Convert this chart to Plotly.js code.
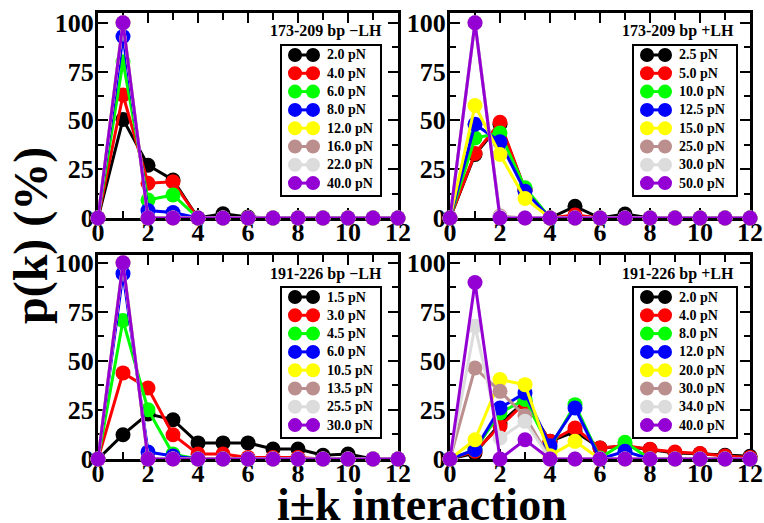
<!DOCTYPE html>
<html>
<head>
<meta charset="utf-8">
<script src="https://cdn.plot.ly/plotly-3.0.1.min.js"></script>
<style>html,body{margin:0;padding:0;background:#fff;}#chart{width:764px;height:523px;}</style>
</head>
<body>
<div id="chart"></div>
<script>
// ---------- data ----------
var kValues = [0,1,2,3,4,5,6,7,8,9,10,11,12];
var seriesColors = ['#000000','#ff0000','#00ff00','#0000ff','#ffff00','#bc8f8f','#dcdcdc','#9400d3'];

var panelTitles = ['173-209 bp \u2212LH', '173-209 bp +LH', '191-226 bp \u2212LH', '191-226 bp +LH'];

var namesTL = ['2.0 pN','4.0 pN','6.0 pN','8.0 pN','12.0 pN','16.0 pN','22.0 pN','40.0 pN'];
var namesTR = ['2.5 pN','5.0 pN','10.0 pN','12.5 pN','15.0 pN','25.0 pN','30.0 pN','50.0 pN'];
var namesBL = ['1.5 pN','3.0 pN','4.5 pN','6.0 pN','10.5 pN','13.5 pN','25.5 pN','30.0 pN'];
var namesBR = ['2.0 pN','4.0 pN','8.0 pN','12.0 pN','20.0 pN','30.0 pN','34.0 pN','40.0 pN'];

var tl_black  = [0,50.5,27,19.5,0,2.2,0.5,0,0,0,0,0,0];
var tl_red    = [0,63,17.8,18.6,0,0,0,0,0,0,0,0,0];
var tl_green  = [0,80,9.2,11.8,0,0,0,0,0,0,0,0,0];
var tl_blue   = [0,93,3.8,2.8,0,0,0,0,0,0,0,0,0];
var tl_yellow = [0,100,0,0,0,0,0,0,0,0,0,0,0];
var tl_brown  = [0,100,0,0,0,0,0,0,0,0,0,0,0];
var tl_grey   = [0,100,0,0,0,0,0,0,0,0,0,0,0];
var tl_violet = [0,100,0,0,0,0,0,0,0,0,0,0,0];

var tr_black  = [0,32.5,48,14.5,0,6,0,2,0,0,0,0,0];
var tr_red    = [0,33,49,14.5,0,1.5,0,0,0,0,0,0,0];
var tr_green  = [0,41,43.5,15.5,0,0,0,0,0,0,0,0,0];
var tr_blue   = [0,48,39,13.7,0,0,0,0,0,0,0,0,0];
var tr_yellow = [0,57.6,32.5,10,0,0,0,0,0,0,0,0,0];
var tr_brown  = [0,100,1,0,0,0,0,0,0,0,0,0,0];
var tr_grey   = [0,100,0.5,0,0,0,0,0,0,0,0,0,0];
var tr_violet = [0,100,0,0,0,0,0,0,0,0,0,0,0];

var bl_black  = [0,12.4,23,20,8.2,8.2,8.2,5.1,5.1,1.9,2.5,0,0];
var bl_red    = [0,43.9,36.2,12.4,2.5,2.5,0.8,0.8,0.8,0,0,0,0];
var bl_green  = [0,70.6,25.1,2.5,0,0,0,0,0,0,0,0,0];
var bl_blue   = [0,94.5,3.6,1.5,0,0,0,0,0,0,0,0,0];
var bl_yellow = [0,100,0,0,0,0,0,0,0,0,0,0,0];
var bl_brown  = [0,100,0,0,0,0,0,0,0,0,0,0,0];
var bl_grey   = [0,100,0,0,0,0,0,0,0,0,0,0,0];
var bl_violet = [0,100,0,0,0,0,0,0,0,0,0,0,0];

var br_black  = [0,3,18,29.4,9,14,5.6,6.5,4.8,3,2.7,1.9,1.4];
var br_red    = [0,4,16.6,28.7,9,15.8,5.6,6.8,5,3.6,2.8,1.5,0.8];
var br_green  = [0,4.8,23.5,30.3,5.6,27.7,0.5,8.5,0,0,0,0,0];
var br_blue   = [0,4.7,26,33.7,6.8,26,0,3.9,0,0,0,0,0];
var br_yellow = [0,9.8,40.5,37.9,1.7,9,0,0,0,0,0,0,0];
var br_brown  = [0,46.4,34.5,22,0,0,0,0,0,0,0,0,0];
var br_grey   = [0,67.7,10.7,19.2,0,0,0,0,0,0,0,0,0];
var br_violet = [0,90,0,9.8,0,0,0,0,0,0,0,0,0];

var panelSeries = [
  [tl_black,tl_red,tl_green,tl_blue,tl_yellow,tl_brown,tl_grey,tl_violet],
  [tr_black,tr_red,tr_green,tr_blue,tr_yellow,tr_brown,tr_grey,tr_violet],
  [bl_black,bl_red,bl_green,bl_blue,bl_yellow,bl_brown,bl_grey,bl_violet],
  [br_black,br_red,br_green,br_blue,br_yellow,br_brown,br_grey,br_violet]
];
var panelNames = [namesTL, namesTR, namesBL, namesBR];

// ---------- layout geometry (pixels) ----------
var W = 764, H = 523;
function px(x){ return x / W; }
function py(y){ return 1 - y / H; }

var panels = [
  {xa:'x',  ya:'y',  left:98,  right:398, top:13,  bottom:218, ymax:105, legL:281, legW:100, legT:45,  labY:31},
  {xa:'x2', ya:'y2', left:450, right:750, top:13,  bottom:218, ymax:105, legL:633, legW:104, legT:45,  labY:31},
  {xa:'x3', ya:'y3', left:98,  right:398, top:255, bottom:459, ymax:104, legL:281, legW:100, legT:287, labY:274},
  {xa:'x4', ya:'y4', left:450, right:750, top:255, bottom:459, ymax:104, legL:633, legW:104, legT:287, labY:274}
];

var serif = 'Liberation Serif, Times New Roman, serif';
var traces = [];
var shapes = [];
var annotations = [];
var layout = {
  width: W, height: H,
  margin: {l:0, r:0, t:0, b:0},
  paper_bgcolor: '#ffffff', plot_bgcolor: '#ffffff',
  showlegend: false,
  font: {family: serif, color: '#000'}
};

panels.forEach(function(p, pi){
  var xKey = 'xaxis' + (pi === 0 ? '' : (pi+1));
  var yKey = 'yaxis' + (pi === 0 ? '' : (pi+1));
  layout[xKey] = {
    domain: [px(p.left), px(p.right)], anchor: p.ya,
    range: [0, 12], dtick: 2, tick0: 0,
    ticks: 'inside', ticklen: 10, tickwidth: 2, tickcolor: '#000',
    minor: {dtick: 1, ticks: 'inside', ticklen: 7, tickwidth: 2, tickcolor: '#000'},
    showline: true, linewidth: 3, linecolor: '#000', mirror: 'ticks',
    showgrid: false, zeroline: false, layer: 'below traces',
    ticklabelstandoff: -11,
    tickfont: {family: serif, size: 26, weight: 'bold', color: '#000'}
  };
  layout[yKey] = {
    domain: [py(p.bottom), py(p.top)], anchor: p.xa,
    range: [0, p.ymax], dtick: 25, tick0: 0,
    ticks: 'inside', ticklen: 10, tickwidth: 2, tickcolor: '#000',
    minor: {dtick: 12.5, ticks: 'inside', ticklen: 6, tickwidth: 2, tickcolor: '#000'},
    showline: true, linewidth: 3, linecolor: '#000', mirror: 'ticks',
    showgrid: false, zeroline: false, layer: 'below traces',
    ticklabelstandoff: -4,
    tickfont: {family: serif, size: 26, weight: 'bold', color: '#000'}
  };

  panelSeries[pi].forEach(function(vals, si){
    traces.push({
      type: 'scatter', mode: 'lines+markers',
      x: kValues, y: vals, name: panelNames[pi][si],
      xaxis: p.xa, yaxis: p.ya, cliponaxis: false,
      line: {color: seriesColors[si], width: 3},
      marker: {color: seriesColors[si], size: 15},
      hoverinfo: 'skip'
    });
  });

  // panel label
  annotations.push({
    xref: 'paper', yref: 'paper', x: px(p.right - 14), y: py(p.labY),
    xanchor: 'right', yanchor: 'middle', showarrow: false,
    text: panelTitles[pi],
    font: {family: serif, size: 16, weight: 'bold', color: '#000'}
  });

  // legend box
  var rowH = 18.3;
  var legB = p.legT + 10 + 7 * rowH + 13;
  shapes.push({
    type: 'rect', xref: 'paper', yref: 'paper',
    x0: px(p.legL), x1: px(p.legL + p.legW), y0: py(legB), y1: py(p.legT),
    line: {color: '#000', width: 2}, fillcolor: '#ffffff', layer: 'above'
  });
  panelNames[pi].forEach(function(nm, si){
    var ry = p.legT + 10 + si * rowH;
    var c1 = p.legL + 14, c2 = p.legL + 32;
    shapes.push({
      type: 'line', xref: 'paper', yref: 'paper',
      x0: px(c1), x1: px(c2), y0: py(ry), y1: py(ry),
      line: {color: seriesColors[si], width: 3}, layer: 'above'
    });
    [c1, c2].forEach(function(cx){
      shapes.push({
        type: 'circle', xref: 'paper', yref: 'paper',
        xsizemode: 'pixel', ysizemode: 'pixel',
        xanchor: px(cx), yanchor: py(ry),
        x0: -7, x1: 7, y0: -7, y1: 7,
        line: {width: 0, color: seriesColors[si]}, fillcolor: seriesColors[si], layer: 'above'
      });
    });
    annotations.push({
      xref: 'paper', yref: 'paper', x: px(p.legL + 44), y: py(ry),
      xanchor: 'left', yanchor: 'middle', showarrow: false,
      text: nm,
      font: {family: serif, size: 14, weight: 'bold', color: '#000'}
    });
  });
});

// axis titles
annotations.push({
  xref: 'paper', yref: 'paper', x: px(422), y: py(522),
  xanchor: 'center', yanchor: 'bottom', showarrow: false,
  text: 'i\u00b1k interaction', yshift: -10,
  font: {family: serif, size: 46, weight: 'bold', color: '#000'}
});
annotations.push({
  xref: 'paper', yref: 'paper', x: px(31), y: py(236),
  xanchor: 'center', yanchor: 'middle', showarrow: false, textangle: -90,
  text: 'p(k) (%)',
  font: {family: serif, size: 48, weight: 'bold', color: '#000'}
});

layout.shapes = shapes;
layout.annotations = annotations;

Plotly.newPlot('chart', traces, layout, {staticPlot: true, displayModeBar: false});
</script>
</body>
</html>
